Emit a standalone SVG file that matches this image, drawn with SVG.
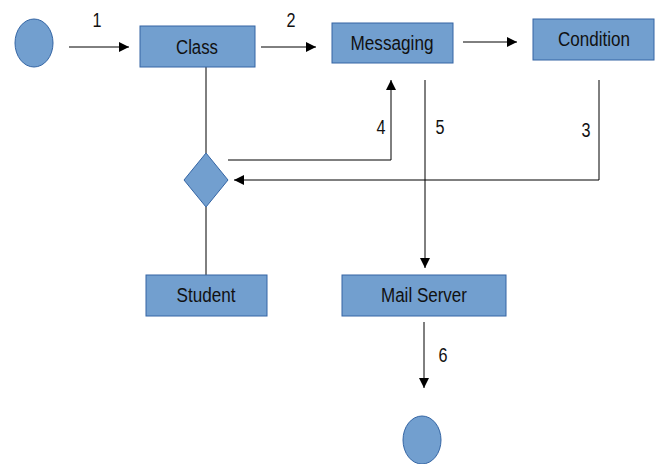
<svg xmlns="http://www.w3.org/2000/svg" width="661" height="464" viewBox="0 0 661 464">
<defs>
<marker id="ah" viewBox="0 0 10 10" refX="10" refY="5" markerWidth="10" markerHeight="10" markerUnits="userSpaceOnUse" orient="auto">
<path d="M0,0 L10,5 L0,10 z" fill="#000"/>
</marker>
<style>
.n{fill:#729fcf;stroke:#3465a4;stroke-width:1}
.t{font-family:"Liberation Sans",Arial,sans-serif;font-size:20px;fill:#111;text-anchor:middle;dominant-baseline:central}
.l{fill:none;stroke:#000;stroke-width:1}
.a{fill:none;stroke:#000;stroke-width:1;marker-end:url(#ah)}
</style>
</defs>
<rect width="661" height="464" fill="#fff"/>
<g id="connectors">
<line class="a" x1="69" y1="47" x2="129" y2="47"/>
<line class="a" x1="261" y1="47" x2="316" y2="47"/>
<line class="a" x1="463" y1="42" x2="517" y2="42"/>
<line class="l" x1="206" y1="67" x2="206" y2="153"/>
<line class="l" x1="206" y1="207" x2="206" y2="275"/>
<polyline class="a" points="228,160 391,160 391,80"/>
<polyline class="a" points="599,80 599,180 234,180"/>
<line class="a" x1="425" y1="80" x2="425" y2="268"/>
<line class="a" x1="424" y1="322" x2="424" y2="388"/>
<text class="t" x="97" y="20" textLength="9" lengthAdjust="spacingAndGlyphs">1</text>
<text class="t" x="291" y="20" textLength="9" lengthAdjust="spacingAndGlyphs">2</text>
<text class="t" x="586" y="130" textLength="9" lengthAdjust="spacingAndGlyphs">3</text>
<text class="t" x="381" y="127" textLength="9" lengthAdjust="spacingAndGlyphs">4</text>
<text class="t" x="440" y="127" textLength="9" lengthAdjust="spacingAndGlyphs">5</text>
<text class="t" x="443" y="355" textLength="9" lengthAdjust="spacingAndGlyphs">6</text>
</g>
<g id="start"><ellipse class="n" cx="34" cy="43" rx="19" ry="24"/></g>
<g id="class"><rect class="n" x="140" y="26" width="115" height="41"/><text class="t" x="197" y="47" textLength="42" lengthAdjust="spacingAndGlyphs">Class</text></g>
<g id="messaging"><rect class="n" x="332" y="23" width="121" height="40"/><text class="t" x="392" y="43" textLength="83" lengthAdjust="spacingAndGlyphs">Messaging</text></g>
<g id="condition"><rect class="n" x="533" y="19" width="121" height="41"/><text class="t" x="594" y="39" textLength="72" lengthAdjust="spacingAndGlyphs">Condition</text></g>
<g id="decision"><polygon class="n" points="206,153 228,180 206,207 184,180" stroke="none"/></g>
<g id="student"><rect class="n" x="146" y="275" width="121" height="41"/><text class="t" x="206" y="295" textLength="59" lengthAdjust="spacingAndGlyphs">Student</text></g>
<g id="mailserver"><rect class="n" x="342" y="275" width="164" height="41"/><text class="t" x="424" y="295" textLength="86" lengthAdjust="spacingAndGlyphs">Mail Server</text></g>
<g id="end"><ellipse class="n" cx="422" cy="440" rx="19" ry="24"/></g>
</svg>
